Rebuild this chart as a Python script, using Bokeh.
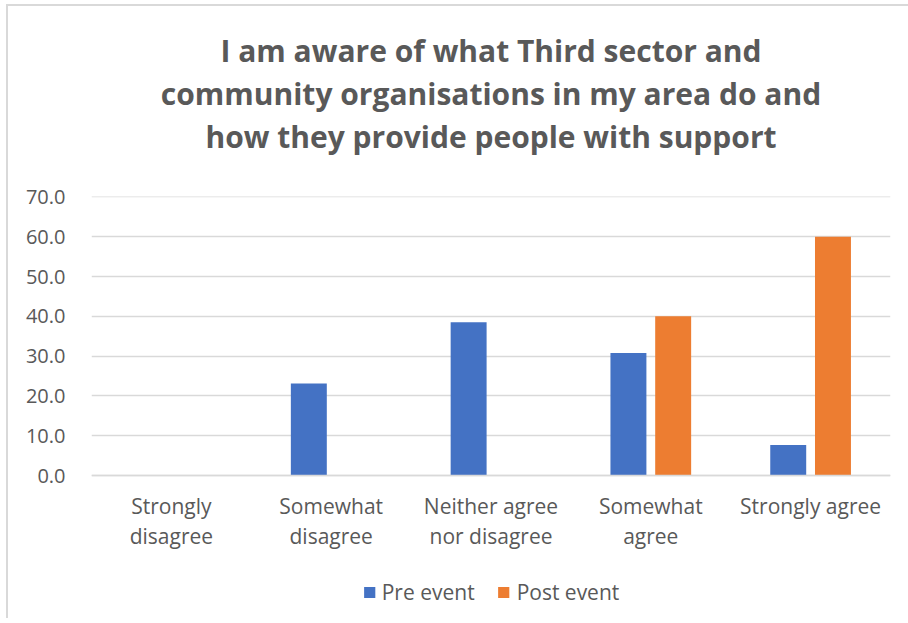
from bokeh.plotting import figure
from bokeh.models import ColumnDataSource, Title, Legend, LegendItem, FactorRange, Range1d, FixedTicker, NumeralTickFormatter
from bokeh.transform import dodge
from bokeh.embed import file_html
from bokeh.resources import INLINE

categories = ["Strongly\ndisagree", "Somewhat\ndisagree", "Neither agree\nnor disagree", "Somewhat\nagree", "Strongly agree"]
pre_event = [0.0, 23.1, 38.5, 30.8, 7.7]
post_event = [0.0, 0.0, 0.0, 40.0, 60.0]
y_ticks = [0, 10, 20, 30, 40, 50, 60, 70]
title_lines = ["I am aware of what Third sector and",
               "community organisations in my area do and",
               "how they provide people with support"]

FONT = "Open Sans"
TXT = "#595959"

src = ColumnDataSource(dict(cat=categories, pre=pre_event, post=post_event))

# frame extends below zero to host the category labels and the legend
p = figure(x_range=FactorRange(*categories), y_range=Range1d(-35.9, 70.1),
           frame_width=799, frame_height=422,
           output_backend="svg", toolbar_location=None,
           min_border_left=83, min_border_right=18, min_border_top=0, min_border_bottom=0)
p.title = None
p.styles = {"margin-left": "6px", "margin-top": "4px",
            "border-left": "2px solid #d9d9d9", "border-top": "2px solid #d9d9d9"}

# spacer between frame and title block
p.add_layout(Title(text="\u00a0", text_font_size="34px", standoff=0), "above")
for line in reversed(title_lines):
    t = Title(text=line, align="center", text_font=FONT, text_font_size="30px",
              text_font_style="bold", text_color=TXT, standoff=0, text_line_height=1.05)
    p.add_layout(t, "above")
# spacer above title block
p.add_layout(Title(text="\u00a0", text_font_size="17px", standoff=0), "above")

r1 = p.vbar(x=dodge("cat", -0.14, range=p.x_range), top="pre", width=0.225, source=src,
            color="#4472C4", line_color=None)
r2 = p.vbar(x=dodge("cat", 0.14, range=p.x_range), top="post", width=0.225, source=src,
            color="#ED7D31", line_color=None)

p.outline_line_color = None
p.xgrid.grid_line_color = None

yt = FixedTicker(ticks=y_ticks)
p.yaxis.ticker = yt
p.ygrid.ticker = yt
p.ygrid.grid_line_color = "#d9d9d9"
p.ygrid.grid_line_width = 1.3

p.yaxis.formatter = NumeralTickFormatter(format="0.0")
p.yaxis.axis_line_color = None
p.yaxis.major_tick_line_color = None
p.yaxis.minor_tick_line_color = None
p.yaxis.major_label_standoff = 20
p.yaxis.major_label_text_font = FONT
p.yaxis.major_label_text_font_size = "20px"
p.yaxis.major_label_text_color = TXT

p.xaxis.fixed_location = 0
p.xaxis.axis_line_color = "#d9d9d9"
p.xaxis.axis_line_width = 1.3
p.xaxis.major_tick_line_color = None
p.xaxis.minor_tick_line_color = None
p.xaxis.major_tick_out = 0
p.xaxis.major_label_standoff = 16
p.xaxis.major_label_orientation = "horizontal"
p.xaxis.major_label_text_font = FONT
p.xaxis.major_label_text_font_size = "21px"
p.xaxis.major_label_text_color = TXT
p.xaxis.major_label_text_line_height = 1.07

legend = Legend(items=[LegendItem(label="Pre event", renderers=[r1]),
                       LegendItem(label="Post event", renderers=[r2])],
                orientation="horizontal", location="bottom_center",
                label_text_font=FONT, label_text_font_size="21px", label_text_color=TXT,
                glyph_width=14, glyph_height=14, spacing=22, label_standoff=6, padding=4,
                border_line_color=None, background_fill_alpha=0, margin=12)
p.add_layout(legend)

open("out.html", "w").write(file_html(p, INLINE))
